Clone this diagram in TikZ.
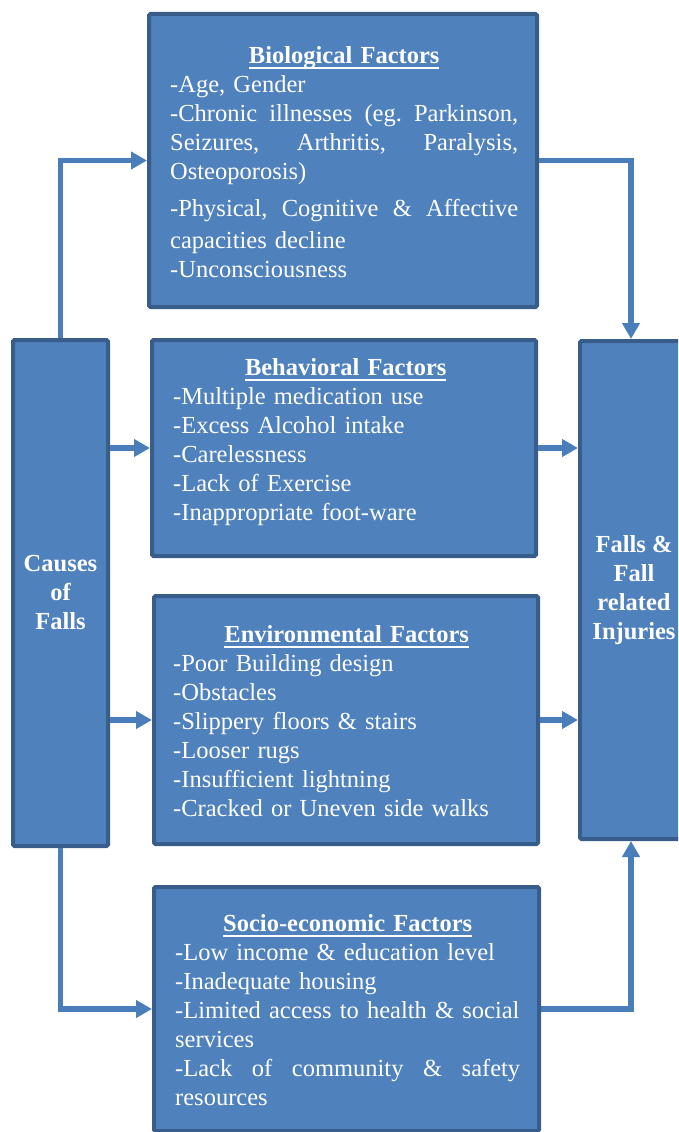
\documentclass[tikz,border=0pt]{standalone}
\usepackage{fontspec}
\setmainfont{Liberation Serif}
\usetikzlibrary{arrows.meta}
\definecolor{boxfill}{HTML}{4F81BD}
\definecolor{boxedge}{HTML}{385D8A}
\definecolor{linkblue}{HTML}{4A7EBB}
% bold title with a white underline just below the baseline, centred in the text block
\newcommand\factortitle[1]{\leavevmode\hbox to\hsize{\hss\bfseries\setbox0\hbox{#1}\rlap{\rule[-6pt]{\wd0}{1.8pt}}\box0\hss}}
% a line spread over the full width of the text block
\newcommand\fullline[1]{\leavevmode\hbox to\hsize{#1}}
\newcommand\gap{\ \hfill}
\begin{document}
\begin{tikzpicture}[x=1pt,y=-1pt,
  factor/.style={draw=boxedge, fill=boxfill, line width=4pt, rounded corners=1.5pt, inner sep=0pt},
  hub/.style={factor, text=white, align=center, font=\bfseries\fontsize{24.5}{29}\selectfont},
  body/.style={text=white, inner sep=0pt, anchor=north west, align=left, font=\fontsize{24.5}{29}\selectfont},
  link/.style={draw=linkblue, line width=5.5pt, -{Triangle[length=16pt,width=17pt]}}]
\useasboundingbox (0,0) rectangle (678,1132);
\clip (0,0) rectangle (678,1132);

% factor boxes
\node[factor, minimum width=388pt, minimum height=293pt] (bio) at (343,160.5) {};
\node[factor, minimum width=384pt, minimum height=216pt] (beh) at (344,448) {};
\node[factor, minimum width=384pt, minimum height=248pt] (env) at (346,720) {};
\node[factor, minimum width=385pt, minimum height=244pt] (soc) at (346.5,1009) {};

% cause and outcome boxes
\node[hub, minimum width=95pt, minimum height=506pt] (causes) at (60.5,593) {Causes\\of\\Falls};
\node[hub, minimum width=108pt, minimum height=498pt] (falls) at (634,590) {Falls \&\\Fall\\related\\Injuries};

% box texts
\node[body, text width=348pt] (biotext) at (170,46) {%
  \factortitle{Biological Factors}\\
  -Age, Gender\\
  \fullline{-Chronic\gap illnesses\gap (eg.\gap Parkinson,}\\
  \fullline{Seizures,\gap Arthritis,\gap Paralysis,}\\
  Osteoporosis)\\[8pt]
  \fullline{-Physical,\gap Cognitive\gap \&\gap Affective}\\[3pt]
  capacities decline\\
  -Unconsciousness};

\node[body, text width=345pt] (behtext) at (173,358) {%
  \factortitle{Behavioral Factors}\\
  -Multiple medication use\\
  -Excess Alcohol intake\\
  -Carelessness\\
  -Lack of Exercise\\
  -Inappropriate foot-ware};

\node[body, text width=347pt] (envtext) at (173,625) {%
  \factortitle{Environmental Factors}\\
  -Poor Building design\\
  -Obstacles\\
  -Slippery floors \& stairs\\
  -Looser rugs\\
  -Insufficient lightning\\
  -Cracked or Uneven side walks};

\node[body, text width=345pt] (soctext) at (175,914) {%
  \factortitle{Socio-economic Factors}\\
  -Low income \& education level\\
  -Inadequate housing\\
  -Limited access to health \& social\\
  services\\
  \fullline{-Lack\gap of\gap community\gap \&\gap safety}\\
  resources};

% connectors
\draw[link] (causes.north) -- (causes.north |- bio.west) -- (bio.west);
\draw[link] (bio.east) -| ([xshift=-3pt]falls.north);
\draw[link] (causes.east |- beh.west) -- (beh.west);
\draw[link] (beh.east) -- (beh.east -| falls.west);
\draw[link] (causes.east |- env.west) -- (env.west);
\draw[link] (env.east) -- (env.east -| falls.west);
\draw[link] (causes.south) |- (soc.west);
\draw[link] (soc.east) -| ([xshift=-3pt]falls.south);
\end{tikzpicture}
\end{document}
